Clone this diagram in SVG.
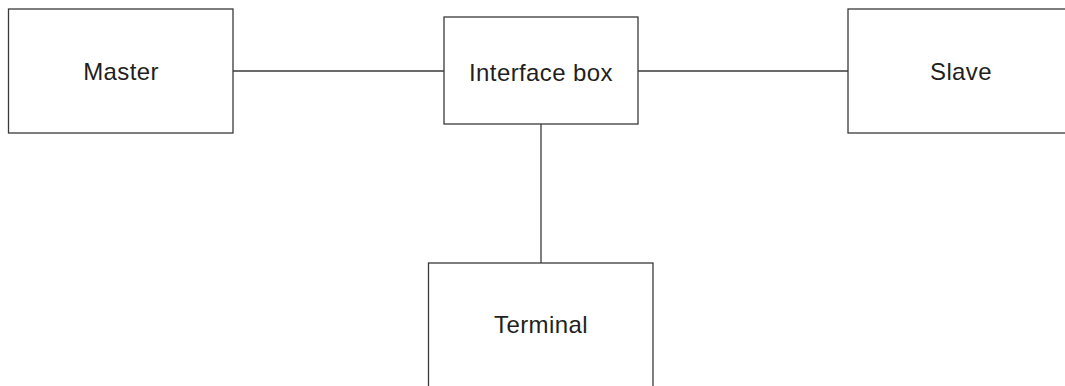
<svg xmlns="http://www.w3.org/2000/svg" width="1065" height="386" viewBox="0 0 1065 386">
<style>
.box{fill:#fff;stroke:#3a3a3a;stroke-width:1.3}
.lbl{font-family:"Liberation Sans",Arial,sans-serif;font-size:24px;fill:#231f20;text-anchor:middle;letter-spacing:0.4px}
.conn{stroke:#3a3a3a;stroke-width:1.3;fill:none}
</style>
<rect width="1065" height="386" fill="#fff"/>
<g id="connectors">
<line class="conn" x1="233" y1="71" x2="444" y2="71"/>
<line class="conn" x1="638" y1="71" x2="848" y2="71"/>
<line class="conn" x1="541" y1="124" x2="541" y2="263"/>
</g>
<g id="master">
<rect class="box" x="8.5" y="9" width="224.5" height="124"/>
<text class="lbl" x="121" y="80">Master</text>
</g>
<g id="interface">
<rect class="box" x="444" y="17" width="194" height="107"/>
<text class="lbl" x="541" y="81">Interface box</text>
</g>
<g id="slave">
<rect class="box" x="848" y="9" width="230" height="124"/>
<text class="lbl" x="961" y="80">Slave</text>
</g>
<g id="terminal">
<rect class="box" x="428.5" y="263" width="224.5" height="140"/>
<text class="lbl" x="541" y="333">Terminal</text>
</g>
</svg>
